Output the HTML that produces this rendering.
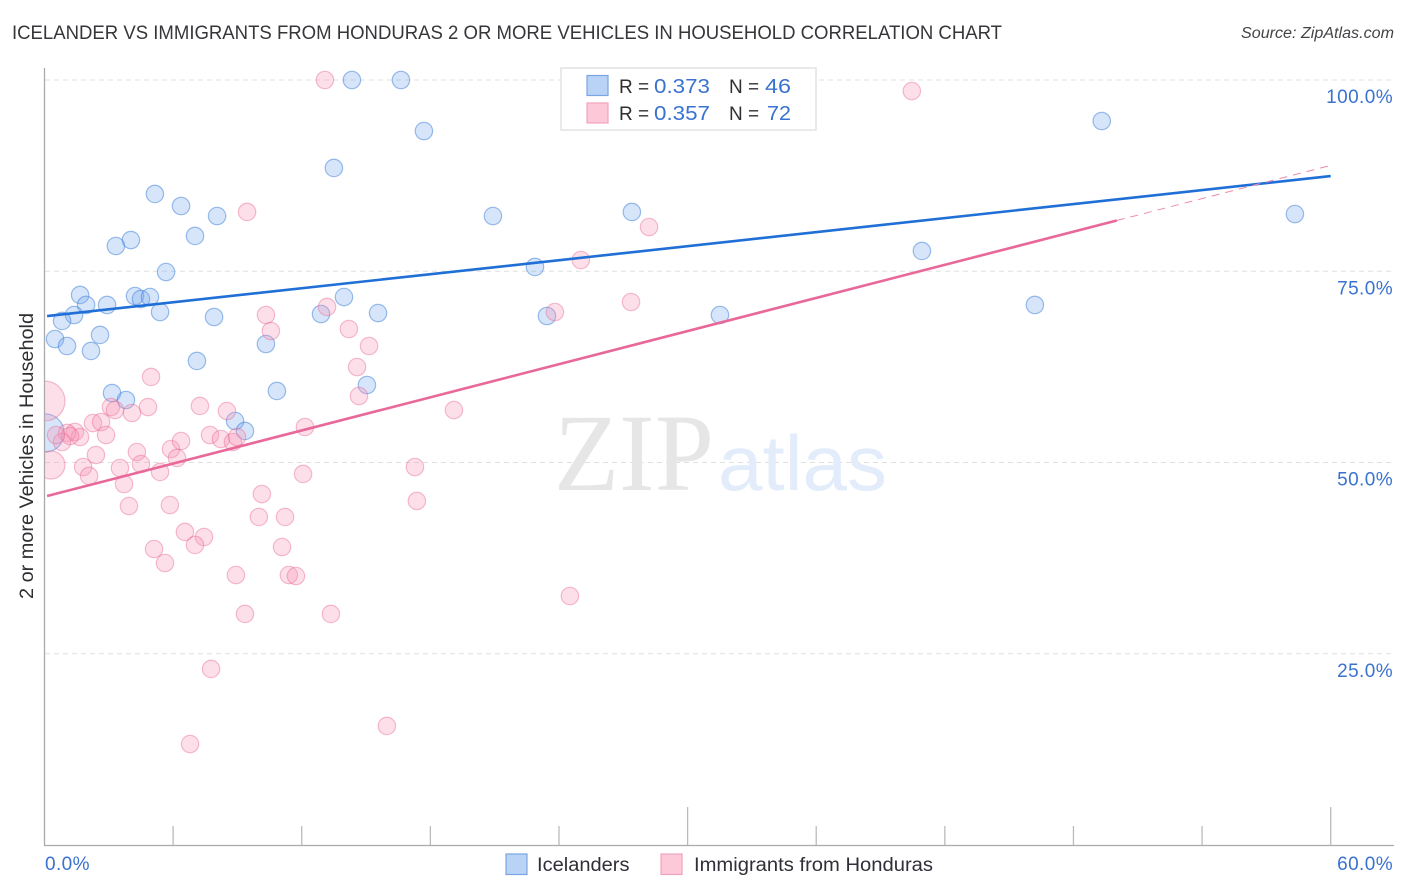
<!DOCTYPE html>
<html lang="en">
<head>
<meta charset="utf-8">
<title>Icelander vs Immigrants from Honduras Correlation Chart</title>
<style>
html,body{margin:0;padding:0;background:#fff;}
svg{display:block;font-family:"Liberation Sans",sans-serif;}
</style>
</head>
<body>
<svg id="chart" width="1406" height="892" viewBox="0 0 1406 892" xmlns="http://www.w3.org/2000/svg">
  <rect x="0" y="0" width="1406" height="892" fill="#ffffff"/>
  <text x="12" y="39" font-size="19.5" fill="#36363a" textLength="990" lengthAdjust="spacingAndGlyphs">ICELANDER VS IMMIGRANTS FROM HONDURAS 2 OR MORE VEHICLES IN HOUSEHOLD CORRELATION CHART</text>
  <text x="1241" y="38" font-size="15.5" font-style="italic" fill="#444448" textLength="153" lengthAdjust="spacingAndGlyphs">Source: ZipAtlas.com</text>
  <g id="grid"></g>
  <g>
    <text x="554" y="490" font-family="'Liberation Serif',serif" font-size="110" fill="#e6e6e6" textLength="160" lengthAdjust="spacingAndGlyphs">ZIP</text>
    <text x="718" y="490" font-size="78" fill="#e2ecfa" textLength="169" lengthAdjust="spacingAndGlyphs">atlas</text>
  </g>
  <g id="points"></g>
  <rect x="0" y="60" width="44.5" height="800" fill="#ffffff"/>
  <g id="trends"></g>
  <g id="axes"></g>
  <text transform="translate(33,599) rotate(-90)" font-size="19" fill="#2f2f33" textLength="286" lengthAdjust="spacingAndGlyphs">2 or more Vehicles in Household</text>

  <g>
    <rect x="561" y="68" width="255" height="62" fill="#ffffff" stroke="#e2e2e2" stroke-width="1.5"/>
    <rect x="587" y="75.5" width="21" height="20" fill="#b9d3f6" stroke="#79a6e2" stroke-width="1.2"/>
    <rect x="587" y="103" width="21" height="20" fill="#fdc9d9" stroke="#f2a3bc" stroke-width="1.2"/>
    <text x="619" y="93" font-size="19" fill="#2f2f33">R =</text>
    <text x="654" y="93" font-size="20" fill="#3a72d0" textLength="56" lengthAdjust="spacingAndGlyphs">0.373</text>
    <text x="729" y="93" font-size="19" fill="#2f2f33">N =</text>
    <text x="765" y="93" font-size="20" fill="#3a72d0" textLength="26" lengthAdjust="spacingAndGlyphs">46</text>
    <text x="619" y="120" font-size="19" fill="#2f2f33">R =</text>
    <text x="654" y="120" font-size="20" fill="#3a72d0" textLength="56" lengthAdjust="spacingAndGlyphs">0.357</text>
    <text x="729" y="120" font-size="19" fill="#2f2f33">N =</text>
    <text x="767" y="120" font-size="20" fill="#3a72d0" textLength="24" lengthAdjust="spacingAndGlyphs">72</text>
  </g>

  <g>
    <rect x="506" y="854" width="21" height="20.5" fill="#b9d3f6" stroke="#79a6e2" stroke-width="1.2"/>
    <text x="537" y="871" font-size="19" fill="#2f2f38" textLength="92.5" lengthAdjust="spacingAndGlyphs">Icelanders</text>
    <rect x="661" y="854" width="21" height="20.5" fill="#fdc9d9" stroke="#f2a3bc" stroke-width="1.2"/>
    <text x="694" y="871" font-size="19" fill="#2f2f38" textLength="239" lengthAdjust="spacingAndGlyphs">Immigrants from Honduras</text>
  </g>
</svg>
<script>
const iceX = [14.34,16.63,17.70,13.50,5.15,6.37,8.05,7.02,4.03,3.33,5.67,1.66,1.94,2.92,4.22,4.50,4.92,5.39,1.38,0.82,7.91,12.90,13.97,15.56,0.49,2.59,1.05,2.17,10.33,7.11,15.04,3.15,3.80,10.84,8.89,9.35,0.03,20.92,22.88,23.44,27.40,31.51,40.93,46.20,49.32,58.33];
const iceY = [100,100,93.33,88.50,85.10,83.53,82.22,79.61,79.08,78.30,74.90,71.90,70.59,70.59,71.76,71.37,71.63,69.67,69.28,68.50,69.02,69.41,71.63,69.54,66.14,66.67,65.23,64.58,65.49,63.27,60.13,59.08,58.17,59.35,55.42,54.12,53.86,82.22,75.56,69.15,82.75,69.28,77.65,70.59,94.64,82.48];
const iceWeight = [1,1,1,1,1,1,1,1,1,1,1,1,1,1,1,1,1,1,1,1,1,1,1,1,1,1,1,1,1,1,1,1,1,1,1,1,4.8,1,1,1,1,1,1,1,1,1];

const honX = [13.08,40.46,9.45,28.20,25.02,23.81,27.36,10.33,10.56,13.18,14.20,15.14,14.58,14.67,4.97,19.10,4.83,7.25,8.51,3.10,3.29,4.08,2.26,2.64,2.87,1.42,1.66,1.05,1.19,0.82,0.54,0.03,0.30,2.40,1.80,2.08,4.31,4.50,3.52,3.71,3.94,5.39,5.90,6.37,6.18,5.85,7.72,8.23,8.79,8.98,12.15,12.06,10.14,10.00,11.22,11.08,17.28,17.37,6.55,7.44,7.02,5.11,5.62,8.93,11.40,11.73,9.35,13.36,24.51,7.77,6.79,15.97];
const honY = [100,98.56,82.75,80.78,76.47,69.67,70.98,69.28,67.19,70.33,67.45,65.23,62.48,58.69,61.18,56.86,57.25,57.39,56.73,57.25,56.86,56.47,55.16,55.29,53.59,53.99,53.33,53.86,53.46,52.68,53.59,58.04,49.67,50.98,49.41,48.24,51.37,49.80,49.28,47.19,44.31,48.76,51.76,52.81,50.59,44.44,53.59,53.07,52.68,53.33,54.64,48.50,45.88,42.88,42.88,38.95,49.41,44.97,40.92,40.26,39.22,38.69,36.86,35.29,35.29,35.16,30.20,30.20,32.55,23.01,13.20,15.56];
const honWeight = [1,1,1,1,1,1,1,1,1,1,1,1,1,1,1,1,1,1,1,1,1,1,1,1,1,1,1,1,1,1,1,5.2,2.6,1,1,1,1,1,1,1,1,1,1,1,1,1,1,1,1,1,1,1,1,1,1,1,1,1,1,1,1,1,1,1,1,1,1,1,1,1,1,1];

const iceTrend = [69.11, 0.3056];
const honTrend = [45.53, 0.7217];
const trendRange = [0.12, 60];
const honSolidEnd = 50.02;

const yTickValues = [100, 75, 50, 25];
const yTickLabels = ["100.0%", "75.0%", "50.0%", "25.0%"];
const xTickValues = [6, 12, 18, 24, 30, 36, 42, 48, 54, 60];
const xMajorTicks = [30, 60];
const xEdgeLabels = ["0.0%", "60.0%"];

const xScale = function (v) { return 44.5 + v * (1330.7 - 44.5) / 60; };
const yScale = function (v) { return 80 + (100 - v) * 7.65; };
const radius = function (w) { return 8.7 * Math.sqrt(w); };

const NS = "http://www.w3.org/2000/svg";
const grid = document.getElementById("grid");
const axes = document.getElementById("axes");
const points = document.getElementById("points");
const trends = document.getElementById("trends");

function make(tag, attrs, parent) {
  const el = document.createElementNS(NS, tag);
  Object.keys(attrs).forEach(function (k) { el.setAttribute(k, attrs[k]); });
  parent.appendChild(el);
  return el;
}

yTickValues.forEach(function (v, i) {
  const line = make("line", { x1: 45, x2: 1394, y1: yScale(v), y2: yScale(v), stroke: "#e0e0e0", "stroke-width": 1, "stroke-dasharray": "5 4" }, grid);
  
  
  const label = make("text", { x: 1393, y: yScale(v) + 23, "text-anchor": "end", "font-size": 19, fill: "#3a72d0", "letter-spacing": "0.4" }, axes);
  label.textContent = yTickLabels[i];
  
  
});

function drawSeries(xs, ys, ws, fill, stroke, name) {
  xs.forEach(function (x, i) {
    const c = make("circle", { cx: xScale(x), cy: yScale(ys[i]), r: radius(ws[i]), fill: fill, stroke: stroke, "stroke-width": 1.2 }, points);
    
    
  });
}
drawSeries(iceX, iceY, iceWeight, "rgba(120,170,238,0.30)", "rgba(60,125,215,0.50)", "icelander-point");
drawSeries(honX, honY, honWeight, "rgba(248,150,182,0.30)", "rgba(232,100,145,0.42)", "honduras-point");

function trendY(t, x) { return t[0] + t[1] * x; }

const iceLine = make("line", { x1: xScale(trendRange[0]), y1: yScale(trendY(iceTrend, trendRange[0])), x2: xScale(trendRange[1]), y2: yScale(trendY(iceTrend, trendRange[1])), stroke: "#1f6fd6", "stroke-width": 2.6 }, trends);



const honLine = make("line", { x1: xScale(trendRange[0]), y1: yScale(trendY(honTrend, trendRange[0])), x2: xScale(honSolidEnd), y2: yScale(trendY(honTrend, honSolidEnd)), stroke: "#e8689a", "stroke-width": 2.6 }, trends);



const honDash = make("line", { x1: xScale(honSolidEnd), y1: yScale(trendY(honTrend, honSolidEnd)), x2: xScale(trendRange[1]), y2: yScale(trendY(honTrend, trendRange[1])), stroke: "#ec8aae", "stroke-width": 1, "stroke-dasharray": "8 6" }, trends);



const yAxis = make("line", { x1: 44.5, x2: 44.5, y1: 68, y2: 846, stroke: "#aaaaaa", "stroke-width": 1.3 }, axes);



const xAxis = make("line", { x1: 44, x2: 1394, y1: 845.5, y2: 845.5, stroke: "#aaaaaa", "stroke-width": 1.3 }, axes);



xTickValues.forEach(function (v) {
  const top = xMajorTicks.indexOf(v) >= 0 ? 807 : 826;
  const tick = make("line", { x1: xScale(v), x2: xScale(v), y1: top, y2: 845, stroke: "#bbbbbb", "stroke-width": 1.3 }, axes);
  
  
});

const xLabelLeft = make("text", { x: 45, y: 870, "font-size": 19, fill: "#3a72d0", "letter-spacing": "0.4" }, axes);
xLabelLeft.textContent = xEdgeLabels[0];



const xLabelRight = make("text", { x: 1393, y: 870, "text-anchor": "end", "font-size": 19, fill: "#3a72d0", "letter-spacing": "0.4" }, axes);
xLabelRight.textContent = xEdgeLabels[1];


</script>
</body>
</html>
